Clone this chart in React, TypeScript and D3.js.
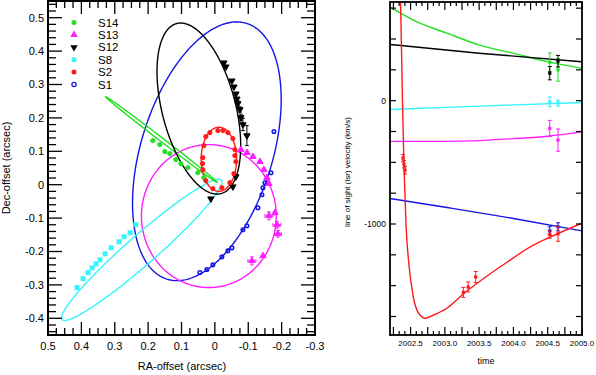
import React from 'react';
import * as d3 from 'd3';

// ---------- axis ticks ----------
const raTicks = [0.5, 0.4, 0.3, 0.2, 0.1, 0, -0.1, -0.2, -0.3];
const raTickLabels = ['0.5', '0.4', '0.3', '0.2', '0.1', '0', '-0.1', '-0.2', '-0.3'];
const decTicks = [0.5, 0.4, 0.3, 0.2, 0.1, 0, -0.1, -0.2, -0.3, -0.4];
const decTickLabels = ['0.5', '0.4', '0.3', '0.2', '0.1', '0', '-0.1', '-0.2', '-0.3', '-0.4'];
const timeTicks = [2002.5, 2003.0, 2003.5, 2004.0, 2004.5, 2005.0];
const timeTickLabels = ['2002.5', '2003.0', '2003.5', '2004.0', '2004.5', '2005.0'];
const velTicks = [0, -1000];
const velTickLabels = ['0', '-1000'];

// ---------- stars ----------
const starNames = ['S14', 'S13', 'S12', 'S8', 'S2', 'S1'];

// orbit ellipses on the sky: [centre RA, centre Dec, semi-major, semi-minor, tilt deg]
const orbitS14 = [0.160, 0.135, 0.211, 0.0055, 142.5];
const orbitS13 = [0.018, -0.094, 0.214, 0.202, 90];
const orbitS12 = [0.048, 0.228, 0.263, 0.110, 104.6];
const orbitS8 = [0.219, -0.195, 0.317, 0.044, 41.2];
const orbitS2 = [-0.012, 0.076, 0.096, 0.053, 90];
const orbitS1 = [0.024, 0.100, 0.401, 0.197, 72.7];

// astrometric positions: [RA, Dec, err RA, err Dec]
const posS14 = [
  [0.186, 0.132, 0.004, 0.004], [0.165, 0.120, 0.004, 0.004], [0.150, 0.099, 0.004, 0.004],
  [0.135, 0.093, 0.004, 0.004], [0.117, 0.075, 0.004, 0.004], [0.102, 0.063, 0.004, 0.004],
  [0.081, 0.051, 0.004, 0.004], [0.051, 0.036, 0.004, 0.004], [0.033, 0.021, 0.004, 0.004],
];
const posS13 = [
  [-0.078, 0.105, 0.004, 0.004], [-0.096, 0.096, 0.004, 0.004], [-0.114, 0.084, 0.004, 0.004],
  [-0.135, 0.069, 0.004, 0.004], [-0.147, 0.045, 0.004, 0.004], [-0.156, 0.021, 0.004, 0.004],
  [-0.162, 0.003, 0.004, 0.004], [-0.162, -0.093, 0.012, 0.012], [-0.180, -0.084, 0.004, 0.006],
  [-0.186, -0.120, 0.012, 0.010], [-0.189, -0.147, 0.010, 0.010], [-0.111, -0.228, 0.012, 0.012],
  [-0.144, -0.213, 0.006, 0.004],
];
const posS12 = [
  [-0.027, 0.365, 0.003, 0.005], [-0.033, 0.353, 0.003, 0.005], [-0.051, 0.311, 0.003, 0.006],
  [-0.057, 0.293, 0.003, 0.006], [-0.063, 0.272, 0.003, 0.006], [-0.066, 0.257, 0.003, 0.006],
  [-0.069, 0.243, 0.003, 0.008], [-0.075, 0.225, 0.003, 0.008], [-0.078, 0.201, 0.003, 0.010],
  [-0.084, 0.180, 0.003, 0.018], [-0.096, 0.147, 0.003, 0.030], [-0.063, 0.024, 0.003, 0.005],
  [-0.054, -0.006, 0.003, 0.005], [0.012, -0.042, 0.003, 0.004],
];
const posS8 = [
  [0.413, -0.308, 0.004, 0.004], [0.395, -0.281, 0.004, 0.004], [0.380, -0.263, 0.004, 0.004],
  [0.368, -0.249, 0.004, 0.004], [0.356, -0.237, 0.004, 0.004], [0.344, -0.225, 0.004, 0.004],
  [0.329, -0.207, 0.004, 0.004], [0.311, -0.189, 0.004, 0.004], [0.287, -0.171, 0.004, 0.004],
  [0.272, -0.156, 0.004, 0.004], [0.254, -0.144, 0.004, 0.004], [0.237, -0.120, 0.004, 0.004],
];
const posS2 = [
  [0.015, 0.156, 0.003, 0.003], [-0.009, 0.162, 0.003, 0.003], [-0.039, 0.156, 0.003, 0.003],
  [-0.054, 0.138, 0.003, 0.003], [-0.060, 0.105, 0.003, 0.003], [-0.063, 0.069, 0.003, 0.003],
  [-0.057, 0.033, 0.003, 0.003], [-0.045, 0.006, 0.003, 0.003], [-0.021, -0.009, 0.003, 0.003],
  [0.006, -0.012, 0.003, 0.003], [0.027, 0.012, 0.003, 0.003], [0.036, 0.045, 0.003, 0.003],
  [0.036, 0.081, 0.003, 0.003], [0.033, 0.117, 0.003, 0.003], [0.027, 0.144, 0.003, 0.003],
  [-0.024, 0.162, 0.003, 0.003], [-0.060, 0.087, 0.003, 0.003], [0.037, 0.063, 0.003, 0.003],
];
const posS1 = [
  [-0.177, 0.159, 0.003, 0.004], [-0.168, 0.036, 0.003, 0.004], [-0.150, 0.006, 0.003, 0.004],
  [-0.144, -0.009, 0.003, 0.004], [-0.141, -0.030, 0.003, 0.004], [-0.129, -0.069, 0.003, 0.004],
  [-0.096, -0.123, 0.003, 0.004], [-0.084, -0.135, 0.003, 0.004], [-0.051, -0.189, 0.003, 0.004],
  [-0.039, -0.198, 0.003, 0.004], [-0.021, -0.216, 0.003, 0.004], [0.006, -0.240, 0.003, 0.004],
  [0.024, -0.254, 0.003, 0.004], [0.045, -0.263, 0.003, 0.004],
];

// radial velocity model curves: [year, km/s]
const rvModelS14 = [[2002.2, 760], [2002.54, 653], [2003.03, 547], [2003.51, 450], [2003.99, 385], [2004.53, 312], [2005.0, 262]];
const rvModelS13 = [[2002.2, -330], [2003.0, -330], [2003.5, -324], [2004.0, -308], [2004.5, -288], [2005.0, -253]];
const rvModelS12 = [[2002.2, 456], [2003.5, 385], [2005.0, 315]];
const rvModelS8 = [[2002.2, -72], [2003.6, -42], [2005.0, -15]];
const rvModelS2 = [
  [2002.335, 1000], [2002.353, 815], [2002.382, 0], [2002.404, -523], [2002.433, -1000],
  [2002.477, -1334], [2002.535, -1577], [2002.608, -1715], [2002.71, -1764], [2002.827, -1740],
  [2003.03, -1683], [2003.265, -1569], [2003.51, -1464], [2003.906, -1310], [2004.24, -1188],
  [2004.533, -1107], [2005.0, -993],
];
const rvModelS1 = [[2002.2, -793], [2003.03, -866], [2004.0, -955], [2005.0, -1056]];

// radial velocity measurements: [year, km/s, err]
const rvObsS14 = [[2004.53, 312, 75], [2004.65, 250, 92]];
const rvObsS13 = [[2004.53, -225, 65], [2004.65, -320, 90]];
const rvObsS12 = [[2004.53, 223, 54], [2004.65, 320, 47]];
const rvObsS8 = [[2004.53, -10, 40], [2004.65, -20, 25]];
const rvObsS2 = [
  [2002.39, -466, 30], [2002.404, -515, 30], [2002.419, -564, 30],
  [2003.27, -1555, 40], [2003.34, -1510, 40], [2003.45, -1430, 45],
  [2004.53, -1085, 30], [2004.65, -1080, 60],
];
const rvObsS1 = [[2004.53, -1056, 34], [2004.65, -1023, 33]];

// ---------- styles ----------
const colors = ['#22e022', '#ff1eff', '#000000', '#33f4ff', '#ff1a1a', '#1414e6'];
const markers = ['circle', 'triUp', 'triDown', 'square', 'circle', 'openCircle'];
const FONT = 'Liberation Sans, Arial, Helvetica, sans-serif';

type Pt = [number, number];

function Marker({ kind, x, y, color, s = 1 }: { kind: string; x: number; y: number; color: string; s?: number }) {
  if (kind === 'circle') return <circle cx={x} cy={y} r={2.5 * s} fill={color} />;
  if (kind === 'openCircle') return <circle cx={x} cy={y} r={2.1 * s} fill="none" stroke={color} strokeWidth={1.3 / s} />;
  if (kind === 'square') return <rect x={x - 2.3 * s} y={y - 2.3 * s} width={4.6 * s} height={4.6 * s} fill={color} />;
  const d = d3.symbol().type(d3.symbolTriangle).size(24 * s * s)() || '';
  return <path d={d} fill={color} transform={`translate(${x},${y})${kind === 'triDown' ? ' rotate(180)' : ''}`} />;
}

export default function App() {
  const xL = d3.scaleLinear().domain([0.5, -0.3]).range([48, 315]);
  const yL = d3.scaleLinear().domain([-0.45, 0.55]).range([335, 1]);
  const xR = d3.scaleLinear().domain([2002.2, 2005.0]).range([390, 582]);
  const yR = d3.scaleLinear().domain([-1900, 800]).range([335, 2]);

  const orbits = [orbitS14, orbitS13, orbitS12, orbitS8, orbitS2, orbitS1];
  const positions = [posS14, posS13, posS12, posS8, posS2, posS1];
  const models = [rvModelS14, rvModelS13, rvModelS12, rvModelS8, rvModelS2, rvModelS1];
  const obs = [rvObsS14, rvObsS13, rvObsS12, rvObsS8, rvObsS2, rvObsS1];
  const drawOrder = [5, 1, 3, 0, 2, 4];

  const ellipsePath = (o: number[]) => {
    const [cra, cdec, a, b, tilt] = o;
    const p = (tilt * Math.PI) / 180;
    const pts: Pt[] = d3.range(0, 2 * Math.PI, Math.PI / 180).map((t) => {
      const dx = a * Math.cos(t) * Math.cos(p) - b * Math.sin(t) * Math.sin(p);
      const dy = a * Math.cos(t) * Math.sin(p) + b * Math.sin(t) * Math.cos(p);
      return [cra - dx, cdec + dy];
    });
    return d3.line<Pt>().x((d) => xL(d[0])).y((d) => yL(d[1])).curve(d3.curveLinearClosed)(pts) || '';
  };
  const rvLine = d3.line<number[]>().x((d) => xR(d[0])).y((d) => yR(d[1])).curve(d3.curveMonotoneX);

  const isMult = (v: number, step: number) => Math.abs(v / step - Math.round(v / step)) < 1e-6;

  const raMinor = d3.range(-0.3, 0.5001, 0.025).map((v) => +v.toFixed(4));
  const decMinor = d3.range(-0.44, 0.5501, 0.02).map((v) => +v.toFixed(4));
  const monthTicks = d3.range(0, 34).map((i) => 2002.25 + i / 12).filter((v) => v <= 2005.0001);
  const velMinor = d3.range(-1750, 751, 250);

  const L = { x0: 48, x1: 315, y0: 1, y1: 335 };
  const R = { x0: 390, x1: 582, y0: 2, y1: 335 };

  return (
    <svg width={596} height={375} style={{ position: 'absolute', left: 0, top: 0, background: '#fff' }} fontFamily={FONT}>
      <defs>
        <clipPath id="clipL"><rect x={L.x0} y={L.y0} width={L.x1 - L.x0} height={L.y1 - L.y0} /></clipPath>
        <clipPath id="clipR"><rect x={R.x0} y={R.y0} width={R.x1 - R.x0} height={R.y1 - R.y0} /></clipPath>
      </defs>
      <rect width={596} height={375} fill="#fff" />

      {/* ===== LEFT PANEL ===== */}
      <g clipPath="url(#clipL)">
        {drawOrder.map((i) => (
          <path key={'o' + i} d={ellipsePath(orbits[i])} fill="none" stroke={colors[i]} strokeWidth={1.4} />
        ))}
        {drawOrder.map((i) => (
          <g key={'p' + i}>
            {positions[i].map((p, j) => {
              const cx = xL(p[0]);
              const cy = yL(p[1]);
              const ex = Math.abs(xL(p[0] + p[2]) - cx);
              const ey = Math.abs(yL(p[1] + p[3]) - cy);
              return (
                <g key={j} stroke={colors[i]} strokeWidth={1}>
                  {ex > 2.5 && (
                    <>
                      <line x1={cx - ex} x2={cx + ex} y1={cy} y2={cy} />
                      <line x1={cx - ex} x2={cx - ex} y1={cy - 1.8} y2={cy + 1.8} />
                      <line x1={cx + ex} x2={cx + ex} y1={cy - 1.8} y2={cy + 1.8} />
                    </>
                  )}
                  {ey > 2.5 && (
                    <>
                      <line x1={cx} x2={cx} y1={cy - ey} y2={cy + ey} />
                      <line x1={cx - 1.8} x2={cx + 1.8} y1={cy - ey} y2={cy - ey} />
                      <line x1={cx - 1.8} x2={cx + 1.8} y1={cy + ey} y2={cy + ey} />
                    </>
                  )}
                  <Marker kind={markers[i]} x={cx} y={cy} color={colors[i]} s={0.85} />
                </g>
              );
            })}
          </g>
        ))}
      </g>

      {/* legend */}
      {starNames.map((n, i) => (
        <g key={'lg' + n}>
          <Marker kind={markers[i]} x={74} y={22.5 + i * 12.4} color={colors[i]} s={1} />
          <text x={98} y={22.5 + i * 12.4} dy="0.36em" fontSize={11.5} fill="#000">{n}</text>
        </g>
      ))}

      {/* left frame ticks */}
      <g stroke="#000" strokeWidth={1.3}>
        {raMinor.map((v) => {
          const big = isMult(v, 0.1);
          const x = xL(v);
          const len = big ? 13 : 7;
          return (
            <g key={'rt' + v}>
              <line x1={x} x2={x} y1={L.y1} y2={L.y1 - len} />
              <line x1={x} x2={x} y1={L.y0} y2={L.y0 + len} />
            </g>
          );
        })}
        {decMinor.map((v) => {
          const big = isMult(v, 0.1);
          const y = yL(v);
          const len = big ? 14 : 8;
          return (
            <g key={'dt' + v}>
              <line x1={L.x0} x2={L.x0 + len} y1={y} y2={y} />
              <line x1={L.x1} x2={L.x1 - len} y1={y} y2={y} />
            </g>
          );
        })}
      </g>
      <rect x={L.x0} y={L.y0} width={L.x1 - L.x0} height={L.y1 - L.y0} fill="none" stroke="#000" strokeWidth={2} />
      {raTicks.map((v, i) => (
        <text key={'rl' + i} x={xL(v)} y={350} textAnchor="middle" fontSize={11}>{raTickLabels[i]}</text>
      ))}
      {decTicks.map((v, i) => (
        <text key={'dl' + i} x={44} y={yL(v)} dy="0.36em" textAnchor="end" fontSize={11}>{decTickLabels[i]}</text>
      ))}
      <text x={182} y={370} textAnchor="middle" fontSize={11}>RA-offset (arcsec)</text>
      <text transform="translate(10,168) rotate(-90)" textAnchor="middle" fontSize={11}>Dec-offset (arcsec)</text>

      {/* ===== RIGHT PANEL ===== */}
      <g clipPath="url(#clipR)">
        {drawOrder.map((i) => (
          <path key={'m' + i} d={rvLine(models[i]) || ''} fill="none" stroke={colors[i]} strokeWidth={1.4} />
        ))}
        {drawOrder.map((i) => (
          <g key={'v' + i} stroke={colors[i]} strokeWidth={1}>
            {obs[i].map((o, j) => {
              const cx = xR(o[0]);
              const cy = yR(o[1]);
              const ey = Math.abs(yR(o[1] + o[2]) - cy);
              return (
                <g key={j}>
                  <line x1={cx} x2={cx} y1={cy - ey} y2={cy + ey} />
                  <line x1={cx - 2} x2={cx + 2} y1={cy - ey} y2={cy - ey} />
                  <line x1={cx - 2} x2={cx + 2} y1={cy + ey} y2={cy + ey} />
                  <rect x={cx - 1.6} y={cy - 1.6} width={3.2} height={3.2} fill={colors[i]} stroke="none" />
                </g>
              );
            })}
          </g>
        ))}
      </g>
      <g stroke="#000" strokeWidth={1.2}>
        {monthTicks.map((v) => {
          const x = xR(v);
          const len = isMult(v - 2002, 0.25) ? 8 : 4;
          return (
            <g key={'mt' + v}>
              <line x1={x} x2={x} y1={R.y1} y2={R.y1 - len} />
              <line x1={x} x2={x} y1={R.y0} y2={R.y0 + len} />
            </g>
          );
        })}
        {velMinor.map((v) => (
          <g key={'vt' + v}>
            <line x1={R.x0} x2={R.x0 + 6} y1={yR(v)} y2={yR(v)} />
            <line x1={R.x1} x2={R.x1 - 6} y1={yR(v)} y2={yR(v)} />
          </g>
        ))}
      </g>
      <rect x={R.x0} y={R.y0} width={R.x1 - R.x0} height={R.y1 - R.y0} fill="none" stroke="#000" strokeWidth={1.8} />
      {timeTicks.map((v, i) => (
        <text key={'tl' + i} x={xR(v)} y={345.5} textAnchor="middle" fontSize={8}>{timeTickLabels[i]}</text>
      ))}
      {velTicks.map((v, i) => (
        <text key={'vl' + i} x={386} y={yR(v)} dy="0.36em" textAnchor="end" fontSize={8.5}>{velTickLabels[i]}</text>
      ))}
      <text x={486} y={364} textAnchor="middle" fontSize={9}>time</text>
      <text transform="translate(350,172) rotate(-90)" textAnchor="middle" fontSize={8}>line of sight (lsr) velocity (km/s)</text>
    </svg>
  );
}
